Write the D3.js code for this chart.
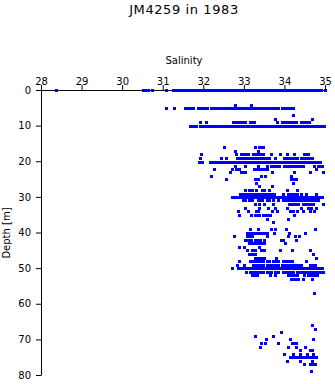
<!DOCTYPE html>
<html><head><meta charset="utf-8">
<script src="https://cdn.jsdelivr.net/npm/d3@7"></script>
<style>body{margin:0;background:#fff}svg{display:block}</style>
</head><body><svg id="c" width="335" height="384"></svg>
<script>
const title = "JM4259 in 1983";
const xLabel = "Salinity";
const yLabel = "Depth [m]";
const xTicks = [28, 29, 30, 31, 32, 33, 34, 35];
const yTicks = [0, 10, 20, 30, 40, 50, 60, 70, 80];

// Each row: [depth (m), [salinity values observed at that depth]]
const rowsSurface = [
  [0, [28.37, 30.52, 30.56, 30.60, 30.64, 30.74, 31.07, 31.25, 31.29, 31.33, 31.38, 31.42,
       31.48, 31.55, 31.62, 31.69, 31.76, 31.83, 31.90, 31.97, 32.04, 32.11, 32.18, 32.25, 32.32,
       32.39, 32.46, 32.53, 32.60, 32.67, 32.74, 32.81, 32.88, 32.95, 33.02, 33.09, 33.16, 33.23,
       33.30, 33.37, 33.44, 33.51, 33.58, 33.65, 33.72, 33.79, 33.86, 33.93, 34.00, 34.07, 34.14,
       34.21, 34.28, 34.35, 34.42, 34.49, 34.56, 34.63, 34.70, 34.77, 34.84, 34.91, 34.99]],
  [4.2, [32.79, 33.18]],
  [5.1, [31.07, 31.28, 31.54, 31.60, 31.67, 31.74, 31.87, 31.93, 31.99, 32.05, 32.10,
         32.18, 32.25, 32.31, 32.38, 32.45, 32.52, 32.59, 32.65, 32.72, 32.79, 32.86, 32.93, 33.00,
         33.06, 33.13, 33.20, 33.27, 33.34, 33.41, 33.47, 33.54, 33.60, 33.64, 33.73, 33.79, 33.85,
         33.93, 33.99, 34.05, 34.11, 34.17, 34.22]],
  [7.1, [34.22]],
  [8.2, [33.77, 34.69]],
  [9.1, [31.91, 32.07, 32.74, 32.81, 32.88, 32.95, 33.02, 33.15, 33.20, 33.25, 33.81, 33.95, 34.02,
         34.09, 34.15, 34.22, 34.28, 34.42, 34.49, 34.55, 34.61]],
  [10.1, [31.67, 31.74, 31.81, 31.91, 31.98, 32.05, 32.12, 32.18, 32.22, 32.29, 32.36,
          32.43, 32.50, 32.57, 32.64, 32.71, 32.78, 32.85, 32.92, 32.99, 33.06, 33.13, 33.20, 33.27,
          33.34, 33.41, 33.48, 33.55, 33.62, 33.69, 33.76, 33.83, 33.90, 33.97, 34.04, 34.11, 34.18,
          34.25, 34.32, 34.39, 34.46, 34.53, 34.60, 34.67, 34.74, 34.81, 34.88, 34.92, 34.98]]
];

const rowsUpper = [
  [16.1, [32.51, 33.28, 33.37, 33.43, 33.48]],
  [17.2, [32.78, 33.35]],
  [18.1, [31.94, 32.80, 32.92, 32.98, 33.05, 33.11, 33.22, 33.29, 33.35, 33.41, 33.46, 33.66, 33.89,
          34.07, 34.23, 34.48, 34.54, 34.59]],
  [19.2, [31.91, 32.43, 32.57, 32.84, 32.90, 32.97, 33.04, 33.11, 33.17, 33.24, 33.31, 33.38, 33.45,
          33.51, 33.56, 33.62, 33.77, 34.00, 34.06, 34.13, 34.19, 34.25, 34.30, 34.40, 34.48, 34.55,
          34.62, 34.69]],
  [20.1, [31.89, 31.97, 32.16, 32.22, 32.28, 32.32, 32.38, 32.45, 32.52, 32.59, 32.66, 32.73, 32.80,
          32.87, 32.94, 33.01, 33.08, 33.15, 33.22, 33.29, 33.36, 33.43, 33.50, 33.57, 33.64, 33.71,
          33.78, 33.85, 33.92, 33.99, 34.06, 34.13, 34.20, 34.27, 34.34, 34.41, 34.48, 34.55, 34.62,
          34.69, 34.76, 34.83, 34.88]],
  [21.2, [32.79, 33.02, 33.35, 33.56, 33.66, 33.73, 33.80, 33.87, 34.00, 34.06, 34.12, 34.18, 34.22,
          34.28, 34.35, 34.41, 34.47, 34.73, 34.82, 34.87, 34.92]],
  [22.1, [32.27, 32.72, 32.80, 32.88, 33.25, 33.32, 33.38, 33.44, 33.50, 33.56, 34.78]],
  [23.1, [32.66, 32.92, 32.98, 33.04, 33.70, 34.23, 34.62, 34.96]],
  [24.2, [32.18, 33.43, 33.53, 34.16]],
  [25.1, [32.56, 33.27, 33.35, 34.16, 34.22, 34.28]],
  [26.2, [33.31, 34.22]],
  [26.9, [33.37, 33.70]]
];

const rowsMiddle = [
  [28.2, [33.03, 33.13, 33.21, 33.31, 33.44, 33.49, 33.63, 34.07, 34.30]],
  [29.2, [32.90, 32.97, 33.04, 33.11, 33.17, 33.23, 33.29, 33.35, 33.42, 33.49, 33.56, 33.62, 33.66,
          33.74, 33.97, 34.09, 34.16, 34.23, 34.30, 34.41, 34.53, 34.77]],
  [30.1, [32.72, 32.79, 32.86, 32.93, 33.00, 33.07, 33.14, 33.21, 33.28, 33.35, 33.42, 33.49, 33.56,
          33.63, 33.70, 33.77, 33.84, 33.91, 33.98, 34.05, 34.12, 34.19, 34.26, 34.33, 34.40, 34.47,
          34.54, 34.61, 34.68, 34.75, 34.82, 34.89, 34.92]],
  [31.0, [32.97, 33.04, 33.12, 33.18, 33.21, 33.35, 33.41, 33.44, 33.56, 33.62, 33.71, 33.85, 33.96,
          34.03, 34.10, 34.17, 34.24, 34.31, 34.38, 34.45, 34.52, 34.59, 34.64, 34.71, 34.78, 34.83]],
  [32.1, [33.27, 33.38, 33.50, 33.72, 34.12, 34.19, 34.26, 34.34, 34.47, 34.54, 34.61, 34.67, 34.71, 34.94]],
  [33.2, [33.02, 33.38, 33.59, 33.77, 34.06, 34.41, 34.59, 34.65, 34.78]],
  [34.1, [32.86, 33.11, 33.30, 33.35, 33.70, 33.81, 34.14, 34.21, 34.30, 34.47, 34.62, 34.73]],
  [35.2, [32.88, 33.18, 33.27, 33.33, 33.38, 33.47, 33.54, 33.60, 33.64, 34.24]],
  [36.1, [33.58, 34.08]],
  [37.1, [33.72]],
  [39.1, [33.16, 33.35, 33.68, 33.77, 34.03, 34.75]],
  [40.2, [33.07, 33.14, 33.21, 33.28, 33.36, 33.42, 33.49, 33.56, 33.75, 34.12, 34.51]]
];

const rowsLower = [
  [41.0, [32.76, 33.07, 33.14, 33.21, 33.58, 34.09, 34.26, 34.36]],
  [42.2, [33.04, 33.11, 33.18, 33.27, 33.34, 33.41, 33.49, 33.91, 33.97, 34.28]],
  [43.0, [33.13, 33.19, 33.23, 33.30, 33.37, 33.43, 33.50, 34.01]],
  [44.2, [32.88, 33.00, 33.38]],
  [45.0, [33.08, 33.21, 33.27, 33.42, 33.50, 33.89, 34.18, 34.62]],
  [46.0, [33.13, 33.20, 33.28, 34.71]],
  [47.2, [33.27, 33.35, 33.40, 33.46, 33.50, 33.79, 34.77]],
  [48.0, [32.88, 33.16, 33.23, 33.30, 33.37, 33.43, 33.47, 33.58, 33.62, 33.72, 33.78, 33.83, 33.97,
          34.04, 34.11, 34.18, 34.52]],
  [49.0, [32.83, 33.00, 33.23, 33.30, 33.37, 33.44, 33.47, 33.56, 33.63, 33.70, 33.77, 33.85, 33.93,
          34.00, 34.07, 34.14, 34.21, 34.28, 34.35, 34.42, 34.62, 34.69, 34.75]],
  [50.1, [32.70, 32.86, 32.92, 32.98, 33.05, 33.12, 33.19, 33.26, 33.33, 33.40, 33.47, 33.54, 33.61,
          33.68, 33.75, 33.82, 33.89, 33.96, 34.03, 34.10, 34.17, 34.24, 34.31, 34.38, 34.45, 34.52,
          34.59, 34.66, 34.73, 34.80, 34.87, 34.92]],
  [51.1, [33.05, 33.15, 33.23, 33.27, 33.34, 33.41, 33.47, 33.56, 33.62, 33.68, 33.77, 33.85, 33.97,
          34.04, 34.11, 34.18, 34.22, 34.30, 34.37, 34.44, 34.50, 34.55, 34.63, 34.70, 34.77, 34.84,
          34.90, 34.96]],
  [52.0, [33.19, 33.26, 33.33, 33.64, 33.77, 34.09, 34.16, 34.23, 34.30, 34.48, 34.59, 34.66, 34.73, 34.80]],
  [53.1, [34.15, 34.22, 34.29, 34.34, 34.45, 34.68]]
];

const rowsDeep = [
  [57.1, [34.74]],
  [66.0, [34.69]],
  [67.1, [34.75]],
  [68.0, [33.92]],
  [69.1, [33.27, 33.72]],
  [70.0, [33.55, 34.14, 34.70]],
  [71.1, [33.43, 33.53, 33.85, 34.18, 34.24, 34.28]],
  [72.1, [33.40, 34.09, 34.28, 34.51]],
  [73.0, [34.38, 34.63, 34.69]],
  [74.1, [34.00, 34.22, 34.38, 34.55, 34.70]],
  [75.0, [34.14, 34.21, 34.28, 34.35, 34.42, 34.49, 34.56, 34.63, 34.70, 34.77]],
  [76.1, [34.07, 34.38, 34.67]],
  [77.0, [34.49, 34.63, 34.69, 34.75]],
  [78.9, [34.66]]
];

const points = [];
[rowsSurface, rowsUpper, rowsMiddle, rowsLower, rowsDeep].forEach(rows =>
  rows.forEach(([d, sals]) => sals.forEach(s => points.push({s, d}))));

const FONT = "'DejaVu Sans', sans-serif";
const svg = d3.select('#c');
const x = d3.scaleLinear().domain([28, 35]).range([41, 325]);
const y = d3.scaleLinear().domain([0, 80]).range([90, 375]);

svg.append('text').attr('x', 184).attr('y', 14).attr('text-anchor', 'middle')
  .attr('font-family', FONT).attr('font-size', 13).attr('letter-spacing', 0.6)
  .attr('fill', '#000').text(title);

svg.append('text').attr('x', 184).attr('y', 64).attr('text-anchor', 'middle')
  .attr('font-family', FONT).attr('font-size', 10).attr('fill', '#000').text(xLabel);

svg.append('text').attr('transform', 'translate(10,233) rotate(-90)').attr('text-anchor', 'middle')
  .attr('font-family', FONT).attr('font-size', 10).attr('fill', '#000').text(yLabel);

const gx = svg.append('g').attr('transform', 'translate(0,90)')
  .call(d3.axisTop(x).tickValues(xTicks).tickFormat(d3.format('d')).tickSize(5).tickSizeOuter(0).tickPadding(0));
const gy = svg.append('g').attr('transform', 'translate(41,0)')
  .call(d3.axisLeft(y).tickValues(yTicks).tickFormat(d3.format('d')).tickSize(5).tickSizeOuter(0).tickPadding(5));
[gx, gy].forEach(g => {
  g.selectAll('text').attr('font-family', FONT).attr('font-size', 10).attr('fill', '#000');
  g.selectAll('line,path').attr('stroke', '#000');
});

svg.append('g').selectAll('rect').data(points).join('rect')
  .attr('x', p => Math.round(x(p.s)) - 1)
  .attr('y', p => Math.round(y(p.d)) - 1)
  .attr('width', 3).attr('height', 3)
  .attr('fill', '#0000ff');
</script></body></html>
